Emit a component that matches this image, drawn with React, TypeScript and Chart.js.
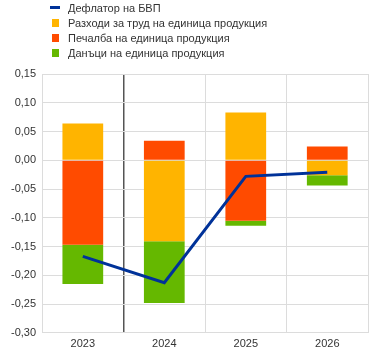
import React, { useEffect, useRef } from "react";
import { Chart, registerables } from "chart.js";

Chart.register(...registerables);

const categories = ["2023", "2024", "2025", "2026"];
const deflator = [-0.167, -0.213, -0.028, -0.021];
const labour = [0.064, -0.141, 0.083, -0.026];
const profits = [-0.147, 0.034, -0.105, 0.024];
const taxes = [-0.068, -0.107, -0.009, -0.018];
const legendLabels = [
  "Дефлатор на БВП",
  "Разходи за труд на единица продукция",
  "Печалба на единица продукция",
  "Данъци на единица продукция",
];
const colors = ["#003299", "#ffb400", "#ff4b00", "#65b800"];

export default function App() {
  const ref = useRef<HTMLCanvasElement | null>(null);
  useEffect(() => {
    const chart = new Chart(ref.current!, {
      type: "bar",
      data: {
        labels: categories,
        datasets: [
          {
            type: "line",
            label: legendLabels[0],
            data: deflator,
            borderColor: colors[0],
            backgroundColor: colors[0],
            borderWidth: 3,
            pointRadius: 0,
            order: 0,
          } as any,
          { label: legendLabels[1], data: labour, backgroundColor: colors[1], order: 1, stack: "s" },
          { label: legendLabels[2], data: profits, backgroundColor: colors[2], order: 2, stack: "s" },
          { label: legendLabels[3], data: taxes, backgroundColor: colors[3], order: 3, stack: "s" },
        ],
      },
      options: {
        animation: false,
        responsive: false,
        maintainAspectRatio: false,
        layout: { padding: { top: 74, right: 1, left: 5, bottom: 0 } },
        datasets: { bar: { categoryPercentage: 1, barPercentage: 0.5 } },
        plugins: { legend: { display: false }, tooltip: { enabled: false } },
        scales: {
          x: {
            stacked: true,
            grid: {
              offset: true,
              color: (ctx: any) => (ctx.index === 1 ? "#555555" : "#dcdcdc"),
              lineWidth: (ctx: any) => (ctx.index === 1 ? 1.5 : 1),
              drawTicks: false,
            },
            border: { display: false },
            ticks: { color: "#333", font: { family: "Liberation Sans, Arial", size: 11 }, padding: 5 },
          },
          y: {
            stacked: true,
            min: -0.3,
            max: 0.15,
            grid: { color: "#dcdcdc", drawTicks: false },
            border: { display: true, color: "#dcdcdc" },
            ticks: {
              stepSize: 0.05,
              color: "#333",
              padding: 6,
              font: { family: "Liberation Sans, Arial", size: 11 },
              callback: (v: any) => Number(v).toFixed(2).replace(".", ","),
            },
          },
        },
      },
    });
    return () => chart.destroy();
  }, []);

  return (
    <div style={{ position: "fixed", left: 0, top: 0, width: 369, height: 354, background: "#fff", overflow: "hidden" }}>
      <canvas ref={ref} width={369} height={356} style={{ position: "absolute", left: 0, top: 0 }} />
      <div style={{ position: "absolute", left: 50, top: 0, fontFamily: "Liberation Sans, Arial", fontSize: 11, color: "#333" }}>
        {legendLabels.map((t, i) => (
          <div key={i} style={{ display: "flex", alignItems: "center", height: 15 }}>
            <span
              style={{
                display: "inline-block",
                width: i === 0 ? 10 : 7,
                height: i === 0 ? 3 : 8,
                marginLeft: i === 0 ? 0 : 2,
                marginRight: i === 0 ? 8 : 9,
                background: colors[i],
              }}
            />
            <span>{t}</span>
          </div>
        ))}
      </div>
    </div>
  );
}
